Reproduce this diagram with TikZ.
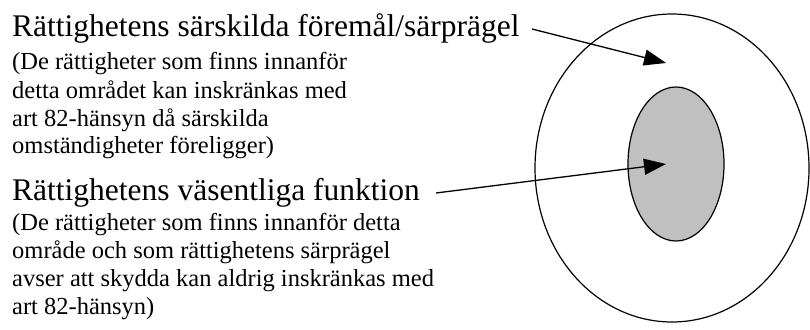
\documentclass[tikz,border=0pt]{standalone}
\usepackage{fontspec}
\setmainfont{Liberation Serif}
\usetikzlibrary{arrows.meta}
\definecolor{innergray}{HTML}{C0C0C0}
\tikzset{
  x=1pt, y=1pt,
  bigline/.style={anchor=base west, inner sep=0pt, font=\fontsize{31.5}{36}\selectfont},
  smallline/.style={anchor=base west, inner sep=0pt, font=\fontsize{24.5}{28}\selectfont},
  pointer/.style={line width=1.3pt, -{Triangle[length=22pt, width=16pt]}},
  ring/.style={draw=black, line width=1.2pt}
}
\begin{document}
\begin{tikzpicture}
  \useasboundingbox (0,0) rectangle (810,-329);

  % concentric regions
  \draw[ring, fill=white] (672,-168) ellipse [x radius=137, y radius=154];
  \draw[ring, fill=innergray] (676,-164) ellipse [x radius=48, y radius=77];

  % first block: outer region
  \node[bigline]   (t1) at (12,-37)  {Rättighetens särskilda föremål/särprägel};
  \node[smallline] (a1) at (12,-70)  {(De rättigheter som finns innanför};
  \node[smallline] (a2) at (12,-98)  {detta området kan inskränkas med};
  \node[smallline] (a3) at (12,-126) {art 82-hänsyn då särskilda};
  \node[smallline] (a4) at (12,-153) {omständigheter föreligger)};

  % second block: inner region
  \node[bigline]   (t2) at (12,-200) {Rättighetens väsentliga funktion};
  \node[smallline] (b1) at (12,-230) {(De rättigheter som finns innanför detta};
  \node[smallline] (b2) at (12,-258) {område och som rättighetens särprägel};
  \node[smallline] (b3) at (12,-286) {avser att skydda kan aldrig inskränkas med};
  \node[smallline] (b4) at (12,-314) {art 82-hänsyn)};

  % pointers into the regions
  \coordinate (s1) at (532,-29);
  \coordinate (e1) at (666,-63);
  \coordinate (s2) at (436,-193);
  \coordinate (e2) at (666,-164);
  \draw[pointer] (s1) -- (e1);
  \draw[pointer] (s2) -- (e2);
\end{tikzpicture}
\end{document}
